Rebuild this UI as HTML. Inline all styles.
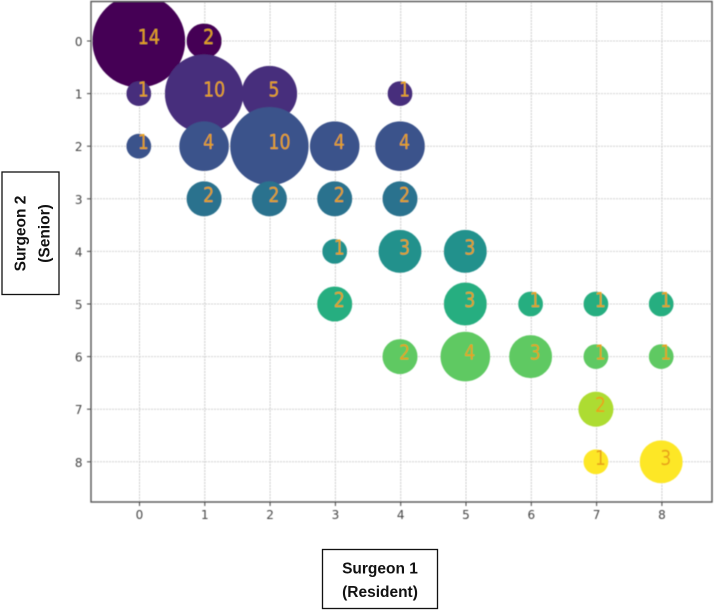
<!DOCTYPE html>
<html>
<head>
<meta charset="utf-8">
<title>Surgeon 1 vs Surgeon 2 bubble chart</title>
<style>
html,body{margin:0;padding:0;background:#fff;width:714px;height:611px;overflow:hidden}
svg{display:block}
</style>
</head>
<body>
<svg id="chart" xmlns="http://www.w3.org/2000/svg" width="714" height="611" viewBox="0 0 714 611">
<defs>
<filter id="soft" x="-5%" y="-5%" width="110%" height="110%"><feGaussianBlur stdDeviation="0.4"/></filter>
<clipPath id="plot-clip"><rect x="91" y="2" width="621" height="500"/></clipPath>
</defs>
<g id="root" filter="url(#soft)">
<g id="grid"></g>
<g id="bubbles" clip-path="url(#plot-clip)"></g>
<g id="labels"></g>
<rect x="91" y="1.5" width="621" height="500.5" fill="none" stroke="#555" stroke-width="1.4"/>
<g id="ticks"></g>
</g>
<g>
<rect x="322.5" y="549.5" width="115" height="59" fill="#fff" stroke="#111" stroke-width="1.3"/>
<text x="380" y="573.5" text-anchor="middle" font-family="Liberation Sans, sans-serif" font-weight="700" font-size="15.5" fill="#111">Surgeon 1</text>
<text x="380" y="597" text-anchor="middle" font-family="Liberation Sans, sans-serif" font-weight="700" font-size="15.5" fill="#111">(Resident)</text>
</g>
<g>
<rect x="2" y="172" width="57" height="122.5" fill="#fff" stroke="#111" stroke-width="1.3"/>
<text transform="translate(25.5,233.5) rotate(-90)" text-anchor="middle" font-family="Liberation Sans, sans-serif" font-weight="700" font-size="15.5" fill="#111">Surgeon 2</text>
<text transform="translate(49.5,233.5) rotate(-90)" text-anchor="middle" font-family="Liberation Sans, sans-serif" font-weight="700" font-size="15.5" fill="#111">(Senior)</text>
</g>
</svg>
<script>
var xTickLabels = [0, 1, 2, 3, 4, 5, 6, 7, 8];
var yTickLabels = [0, 1, 2, 3, 4, 5, 6, 7, 8];
var seriesX = [0, 1, 0, 1, 2, 4, 0, 1, 2, 3, 4, 1, 2, 3, 4, 3, 4, 5, 3, 5, 6, 7, 8, 4, 5, 6, 7, 8, 7, 7, 8];
var seriesY = [0, 0, 1, 1, 1, 1, 2, 2, 2, 2, 2, 3, 3, 3, 3, 4, 4, 4, 5, 5, 5, 5, 5, 6, 6, 6, 6, 6, 7, 8, 8];
var seriesCount = [14, 2, 1, 10, 5, 1, 1, 4, 10, 4, 4, 2, 2, 2, 2, 1, 3, 3, 2, 3, 1, 1, 1, 2, 4, 3, 1, 1, 2, 1, 3];
var rowColors = ['#440154', '#472d7b', '#3b528b', '#2c728e', '#21918c', '#28ae80', '#5ec962', '#addc30', '#fde725'];

var NS = 'http://www.w3.org/2000/svg';
function xScale(v) { return 139.5 + v * 65.3; }
function yScale(v) { return 41 + v * 52.6; }
function radius(n) { return 12.4 * Math.sqrt(n); }
function make(tag, attrs, parent) {
  var el = document.createElementNS(NS, tag);
  for (var k in attrs) el.setAttribute(k, attrs[k]);
  parent.appendChild(el);
  return el;
}
var gridG = document.getElementById('grid');
var bubbleG = document.getElementById('bubbles');
var labelG = document.getElementById('labels');
var tickG = document.getElementById('ticks');
var tickFont = 'DejaVu Sans, sans-serif';

xTickLabels.forEach(function (t) {
  var x = xScale(t);
  var gl = make('line', {x1: x, x2: x, y1: 2, y2: 502, stroke: '#cccccc', 'stroke-width': 1, 'stroke-dasharray': '2 1'}, gridG);
  
  
  var tk = make('line', {x1: x, x2: x, y1: 502, y2: 506, stroke: '#444', 'stroke-width': 1}, tickG);
  
  
  var tl = make('text', {x: x, y: 519, 'text-anchor': 'middle', 'font-family': tickFont, 'font-size': 12, fill: '#444'}, tickG);
  
  
  tl.textContent = t;
});
yTickLabels.forEach(function (t) {
  var y = yScale(t);
  var gl = make('line', {x1: 91, x2: 712, y1: y, y2: y, stroke: '#d2d2d2', 'stroke-width': 1, 'stroke-dasharray': '2 1'}, gridG);
  
  
  var tk = make('line', {x1: 87, x2: 91, y1: y, y2: y, stroke: '#444', 'stroke-width': 1}, tickG);
  
  
  var tl = make('text', {x: 82.5, y: y + 5, 'text-anchor': 'end', 'font-family': tickFont, 'font-size': 12, fill: '#444'}, tickG);
  
  
  tl.textContent = t;
});
seriesCount.forEach(function (n, i) {
  var cx = xScale(seriesX[i]) - 0.7;
  var cy = yScale(seriesY[i]);
  var c = make('circle', {cx: cx, cy: cy, r: radius(n), fill: rowColors[seriesY[i]]}, bubbleG);
  
  
  var tx = make('text', {transform: 'translate(' + (cx - 1) + ',' + (cy + 3) + ') scale(0.87,1)', 'font-family': tickFont, 'font-size': 20, fill: '#e8a31c'}, labelG);
  
  
  tx.textContent = n;
});
</script>
</body>
</html>
